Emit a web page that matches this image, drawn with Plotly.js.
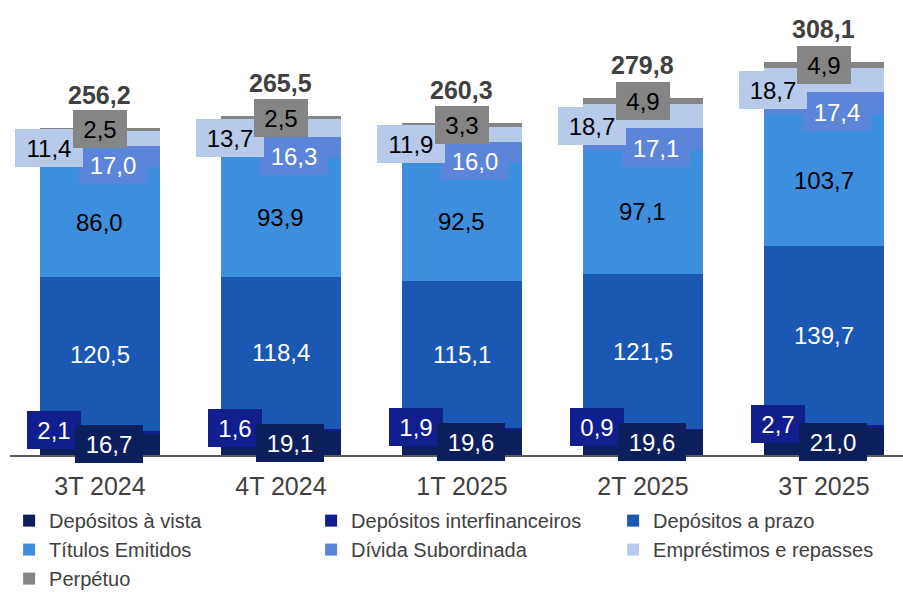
<!DOCTYPE html>
<html>
<head>
<meta charset="utf-8">
<script src="https://cdn.plot.ly/plotly-3.0.1.min.js"></script>
<style>html,body{margin:0;padding:0;background:#fff;}#chart{width:903px;height:592px;}</style>
</head>
<body>
<div id="chart"></div>
<script>
// ---- data ----
const categories = ["3T 2024", "4T 2024", "1T 2025", "2T 2025", "3T 2025"];
const seriesNames = ["Depósitos à vista", "Depósitos interfinanceiros", "Depósitos a prazo",
  "Títulos Emitidos", "Dívida Subordinada", "Empréstimos e repasses", "Perpétuo"];
const depositosVista = [16.7, 19.1, 19.6, 19.6, 21.0];
const depositosInterfin = [2.1, 1.6, 1.9, 0.9, 2.7];
const depositosPrazo = [120.5, 118.4, 115.1, 121.5, 139.7];
const titulosEmitidos = [86.0, 93.9, 92.5, 97.1, 103.7];
const dividaSubordinada = [17.0, 16.3, 16.0, 17.1, 17.4];
const emprestimos = [11.4, 13.7, 11.9, 18.7, 18.7];
const perpetuo = [2.5, 2.5, 3.3, 4.9, 4.9];
const totals = [256.2, 265.5, 260.3, 279.8, 308.1];

// ---- styles ----
const colors = ["#0C1E5B", "#101E8E", "#1A58B3", "#3E8EDE", "#5B85D9", "#B7CAE9", "#858585"];
const labelText = ["#FFFFFF", "#FFFFFF", "#FFFFFF", "#000000", "#FFFFFF", "#000000", "#000000"];
const labelBoxed = [true, true, false, false, true, true, true];
const labelXShift = [9, -46, 0, 0, 13, -51, 0];
const labelYShift = [0, 2, 0, 0, -9, -10, 0];
// annotation drawing order (later on top)
const labelOrder = [1, 0, 2, 3, 4, 5, 6];
const FONT = "Liberation Sans, Arial, sans-serif";
const LBL = 24;

const series = [depositosVista, depositosInterfin, depositosPrazo, titulosEmitidos,
  dividaSubordinada, emprestimos, perpetuo];

const fmt = v => v.toFixed(1).replace(".", ",");
const idx = categories.map((c, i) => i);

const traces = series.map((vals, s) => ({
  type: "bar",
  name: seriesNames[s],
  x: idx,
  y: vals,
  marker: {color: colors[s], line: {width: 0}},
  hoverinfo: "skip"
}));

// cumulative bases
const bases = series.map((vals, s) => vals.map((v, i) => {
  let b = 0; for (let k = 0; k < s; k++) b += series[k][i]; return b;
}));

function boxWidth(str) {
  let w = 0;
  for (const ch of str) w += (ch === "," ? 0.278 : 0.556) * LBL;
  return Math.round(w + 21);
}

const annotations = [];
labelOrder.forEach(s => {
  series[s].forEach((v, i) => {
    const t = fmt(v);
    const a = {
      x: idx[i], y: bases[s][i] + v / 2, xref: "x", yref: "y",
      text: t, showarrow: false,
      xshift: labelXShift[s], yshift: labelYShift[s],
      font: {family: FONT, size: LBL, color: labelText[s]},
      xanchor: "center", yanchor: "middle"
    };
    if (labelBoxed[s]) {
      a.bgcolor = colors[s];
      a.borderpad = 0;
      a.borderwidth = 0;
      a.width = boxWidth(t);
      a.height = 38;
    }
    annotations.push(a);
  });
});
totals.forEach((t, i) => {
  annotations.push({
    x: idx[i], y: t, xref: "x", yref: "y", text: "<b>" + fmt(t) + "</b>",
    showarrow: false, yshift: 33, xanchor: "center", yanchor: "middle",
    font: {family: FONT, size: 25, color: "#404040"}
  });
});

const layout = {
  width: 903, height: 592,
  margin: {l: 10, r: 0, t: 20, b: 137, autoexpand: false},
  paper_bgcolor: "#ffffff", plot_bgcolor: "#ffffff",
  barmode: "stack",
  bargap: 0.334,
  showlegend: true,
  xaxis: {
    range: [-0.497, 4.437],
    tickmode: "array", tickvals: idx, ticktext: categories,
    tickfont: {family: FONT, size: 25, color: "#404040"},
    showline: true, linecolor: "#595959", linewidth: 2,
    ticks: "", showgrid: false, zeroline: false,
    ticklabelstandoff: 8, fixedrange: true
  },
  yaxis: {
    range: [0, 340.6], visible: false, showgrid: false, zeroline: false, fixedrange: true
  },
  legend: {
    orientation: "h", traceorder: "normal",
    x: -0.001, xanchor: "left", y: -0.106, yanchor: "top",
    entrywidth: 257, entrywidthmode: "pixels",
    font: {family: FONT, size: 20, color: "#404040"},
    bgcolor: "rgba(0,0,0,0)", itemclick: false, itemdoubleclick: false
  },
  annotations: annotations
};

Plotly.newPlot("chart", traces, layout, {displayModeBar: false, staticPlot: true});
</script>
</body>
</html>
